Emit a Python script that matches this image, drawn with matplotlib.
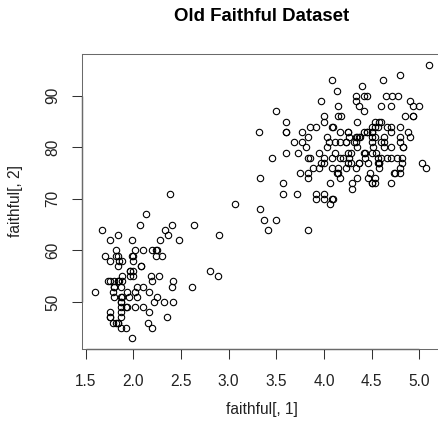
import matplotlib
matplotlib.use("Agg")
import matplotlib.pyplot as plt

# faithful[, 1] (eruptions) and faithful[, 2] (waiting)
eruptions = [
    3.600, 1.800, 3.333, 2.283, 4.533, 2.883, 4.700, 3.600, 1.950, 4.350,
    1.833, 3.917, 4.200, 1.750, 4.700, 2.167, 1.750, 4.800, 1.600, 4.250,
    1.800, 1.750, 3.450, 3.067, 4.533, 3.600, 1.967, 4.083, 3.850, 4.433,
    4.300, 4.467, 3.367, 4.033, 3.833, 2.017, 1.867, 4.833, 1.833, 4.783,
    4.350, 1.883, 4.567, 1.750, 4.533, 3.317, 3.833, 2.100, 4.633, 2.000,
    4.800, 4.716, 1.833, 4.833, 1.733, 4.883, 3.717, 1.667, 4.567, 4.317,
    2.233, 4.500, 1.750, 4.800, 1.817, 4.400, 4.167, 4.700, 2.067, 4.700,
    4.033, 1.967, 4.500, 4.000, 1.983, 5.067, 2.017, 4.567, 3.883, 3.600,
    4.133, 4.333, 4.100, 2.633, 4.067, 4.933, 3.950, 4.517, 2.167, 4.000,
    2.200, 4.333, 1.867, 4.817, 1.833, 4.300, 4.667, 3.750, 1.867, 4.900,
    2.483, 4.367, 2.100, 4.500, 4.050, 1.867, 4.700, 1.783, 4.850, 3.683,
    4.733, 2.300, 4.900, 4.417, 1.700, 4.633, 2.317, 4.600, 1.817, 4.417,
    2.617, 4.067, 4.250, 1.967, 4.600, 3.767, 1.917, 4.500, 2.267, 4.650,
    1.867, 4.167, 2.800, 4.333, 1.833, 4.383, 1.883, 4.933, 2.033, 3.733,
    4.233, 2.233, 4.533, 4.817, 4.333, 1.983, 4.633, 2.017, 5.100, 1.800,
    5.033, 4.000, 2.400, 4.600, 3.567, 4.000, 4.500, 4.083, 1.800, 3.967,
    2.200, 4.150, 2.000, 3.833, 3.500, 4.583, 2.367, 5.000, 1.933, 4.617,
    1.917, 2.083, 4.583, 3.333, 4.167, 4.333, 4.500, 2.417, 4.000, 4.167,
    1.883, 4.583, 4.250, 3.767, 2.033, 4.433, 4.083, 1.833, 4.417, 2.183,
    4.800, 1.833, 4.800, 4.100, 3.966, 4.233, 3.500, 4.366, 2.250, 4.667,
    2.100, 4.350, 4.133, 1.867, 4.600, 1.783, 4.367, 3.850, 1.933, 4.500,
    2.383, 4.700, 1.867, 3.833, 3.417, 4.233, 2.400, 4.800, 2.000, 4.150,
    1.867, 4.267, 1.750, 4.483, 4.000, 4.117, 4.083, 4.267, 3.917, 4.550,
    4.083, 2.417, 4.183, 2.217, 4.450, 1.883, 1.850, 4.283, 3.950, 2.333,
    4.150, 2.350, 4.933, 2.900, 4.583, 3.833, 2.083, 4.367, 2.133, 4.350,
    2.200, 4.450, 3.567, 4.500, 4.150, 3.817, 3.917, 4.450, 2.000, 4.283,
    4.767, 4.533, 1.850, 4.250, 1.983, 2.250, 4.750, 4.117, 2.150, 4.417,
    1.817, 4.467,
]

waiting = [
    79, 54, 74, 62, 85, 55, 88, 85, 51, 85,
    54, 84, 78, 47, 83, 52, 62, 84, 52, 79,
    51, 47, 78, 69, 74, 83, 55, 76, 78, 79,
    73, 77, 66, 80, 74, 52, 48, 80, 59, 90,
    80, 58, 84, 58, 73, 83, 64, 53, 82, 59,
    75, 90, 54, 80, 54, 83, 71, 64, 77, 81,
    59, 84, 48, 82, 60, 92, 78, 78, 65, 73,
    82, 56, 79, 71, 62, 76, 60, 78, 76, 83,
    75, 82, 70, 65, 73, 88, 76, 80, 48, 86,
    60, 90, 50, 78, 63, 72, 84, 75, 51, 82,
    62, 88, 49, 83, 81, 47, 84, 52, 86, 81,
    75, 59, 89, 79, 59, 81, 50, 85, 59, 87,
    53, 69, 77, 56, 88, 81, 45, 82, 55, 90,
    45, 83, 56, 89, 46, 82, 51, 86, 53, 79,
    81, 60, 82, 77, 76, 59, 80, 49, 96, 53,
    77, 77, 65, 81, 71, 70, 81, 93, 53, 89,
    45, 86, 58, 78, 66, 76, 63, 88, 52, 93,
    49, 57, 77, 68, 81, 81, 73, 50, 85, 74,
    55, 77, 83, 83, 51, 78, 84, 46, 83, 55,
    81, 57, 76, 84, 77, 81, 87, 77, 51, 78,
    60, 82, 91, 53, 78, 46, 77, 84, 49, 83,
    71, 80, 49, 75, 64, 76, 53, 94, 55, 76,
    50, 82, 54, 75, 78, 79, 78, 78, 70, 79,
    70, 54, 86, 50, 90, 54, 54, 77, 79, 64,
    75, 47, 86, 63, 85, 82, 57, 82, 67, 74,
    54, 83, 73, 73, 88, 80, 71, 83, 56, 79,
    78, 84, 58, 83, 43, 60, 75, 81, 46, 90,
    46, 74,
]

x_ticks = [1.5, 2.0, 2.5, 3.0, 3.5, 4.0, 4.5, 5.0]
y_ticks = [50, 60, 70, 80, 90]

title = "Old Faithful Dataset"
x_label = "faithful[, 1]"
y_label = "faithful[, 2]"

assert len(eruptions) == len(waiting)

plt.rcParams["font.family"] = ["Liberation Sans", "DejaVu Sans"]

W, H = 439, 428
fig = plt.figure(figsize=(W / 100, H / 100), dpi=100)

# R style plot region (the right edge of the box falls just past the image)
ax = fig.add_axes([82 / W, (H - 349) / H, 360 / W, 295 / H])

ax.plot(eruptions, waiting, linestyle="none", marker="o", markersize=4.6,
        markerfacecolor="none", markeredgecolor="black", markeredgewidth=0.8)

# 4% padding like R's xaxs = "r"
xr = max(eruptions) - min(eruptions)
yr = max(waiting) - min(waiting)
ax.set_xlim(min(eruptions) - 0.04 * xr, max(eruptions) + 0.04 * xr)
ax.set_ylim(min(waiting) - 0.04 * yr, max(waiting) + 0.04 * yr)

ax.set_xticks(x_ticks)
ax.set_xticklabels(["%.1f" % t for t in x_ticks])
ax.set_yticks(y_ticks)
ax.set_yticklabels([str(t) for t in y_ticks], rotation=90, va="center")

ax.tick_params(axis="both", direction="out", length=7.2, width=0.75,
               color="#333333", labelsize=11.2, labelcolor="#222222")
ax.tick_params(axis="x", pad=11.0)
ax.tick_params(axis="y", pad=8.5)

for s in ax.spines.values():
    s.set_color("#6a6a6a")
    s.set_linewidth(0.75)

# axis lines drawn over the box between first and last tick
ax.plot([x_ticks[0], x_ticks[-1]], [ax.get_ylim()[0]] * 2, color="black",
        linewidth=0.9, clip_on=False, solid_capstyle="butt")
ax.plot([ax.get_xlim()[0]] * 2, [y_ticks[0], y_ticks[-1]], color="black",
        linewidth=0.9, clip_on=False, solid_capstyle="butt")

fig.text(262 / W, (H - 20.7) / H, title, ha="center", va="baseline",
         fontsize=13.4, fontweight="bold")
fig.text(262 / W, (H - 414) / H, x_label, ha="center", va="baseline",
         fontsize=11.2, color="#222222")
fig.text(15.5 / W, (H - 201) / H, y_label, ha="center", va="center",
         rotation=90, fontsize=11.2, color="#222222")

fig.savefig("out.png", dpi=100)
